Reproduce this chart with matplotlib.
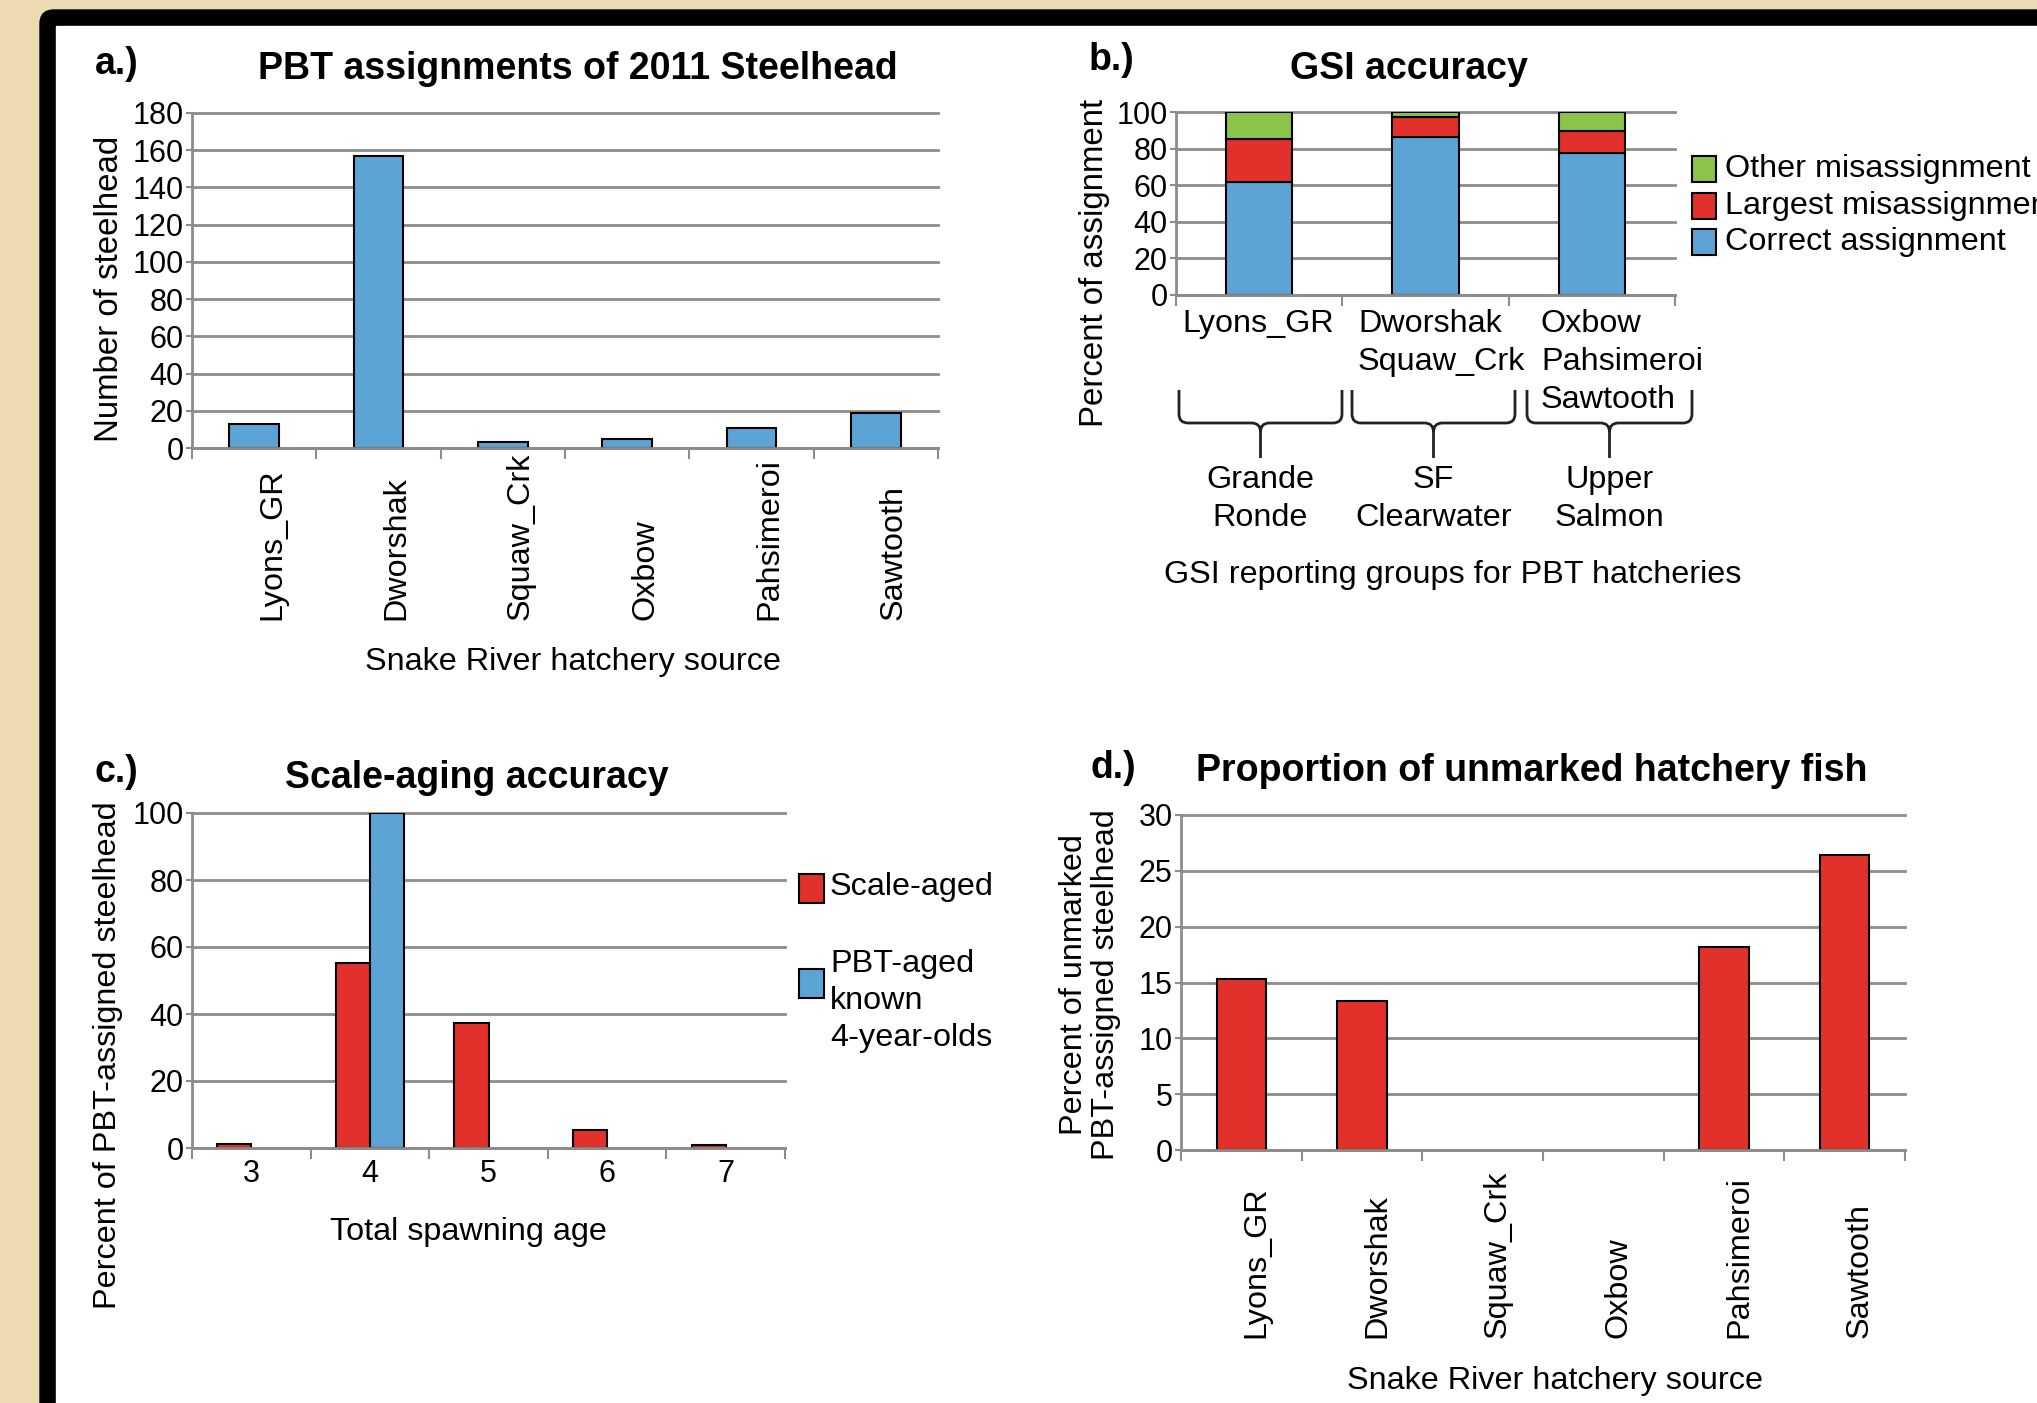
import numpy as np
import matplotlib
matplotlib.use("Agg")
import matplotlib.pyplot as plt
from matplotlib.patches import Rectangle, FancyBboxPatch, PathPatch
from matplotlib.path import Path
from matplotlib.transforms import ScaledTranslation

plt.rcParams['font.family'] = ['Liberation Sans', 'DejaVu Sans']

W, H = 2037, 1403

# a.) PBT assignments of 2011 steelhead
hatcheries = ["Lyons_GR", "Dworshak", "Squaw_Crk", "Oxbow", "Pahsimeroi", "Sawtooth"]
pbt_counts = [13, 157, 3, 5, 11, 19]

# b.) GSI accuracy (percent of assignment)
gsi_hatcheries = ["Lyons_GR", "Dworshak\nSquaw_Crk", "Oxbow\nPahsimeroi\nSawtooth"]
gsi_correct = [61.5, 86.5, 77.5]
gsi_largest = [23.5, 10.5, 12.0]
gsi_other = [15.0, 3.0, 10.5]
reporting_groups = ["Grande\nRonde", "SF\nClearwater", "Upper\nSalmon"]

# c.) scale-aging accuracy
ages = [3, 4, 5, 6, 7]
scale_aged = [1.3, 55.3, 37.2, 5.5, 0.8]
pbt_aged = [0, 100, 0, 0, 0]

# d.) unmarked hatchery fish
unmarked_pct = [15.3, 13.3, 0, 0, 18.2, 26.4]

BLUE = '#5ba4d5'
RED = '#e2302a'
GREEN = '#8cc44b'
GRID = '#8e8c8a'
FS = 22      # tick labels
LFS = 23.3   # axis labels, legends
TFS = 27     # titles
LS = 1.34

fig = plt.figure(figsize=(W / 100, H / 100), dpi=100)

# background layer in pixel coordinates
bg = fig.add_axes([0, 0, 1, 1], zorder=0)
bg.set_xlim(0, W)
bg.set_ylim(H, 0)
bg.axis('off')
bg.add_patch(Rectangle((0, 0), W, H, color='#ebdab2'))
bg.add_patch(FancyBboxPatch((40, 10), W + 40, H + 40,
                            boxstyle='round,pad=0,rounding_size=14',
                            color='black'))
bg.add_patch(Rectangle((56, 26), W, H, color='white'))


def panel(l, t, r, b):
    ax = fig.add_axes([l / W, 1 - b / H, (r - l) / W, (b - t) / H], zorder=1)
    ax.set_facecolor('none')
    return ax


def style(ax, n, ymax, ystep):
    ax.set_xlim(-0.5, n - 0.5)
    ax.set_ylim(0, ymax)
    ax.set_yticks(np.arange(0, ymax + 1, ystep))
    ax.grid(axis='y', color=GRID, lw=2)
    ax.set_axisbelow(True)
    for ln in ax.get_ygridlines():
        ln.set_clip_on(False)
    for s in ['top', 'right']:
        ax.spines[s].set_visible(False)
    for s in ['left', 'bottom']:
        ax.spines[s].set_color(GRID)
        ax.spines[s].set_linewidth(2)
    ax.set_xticks(np.arange(-0.5, n), minor=True)
    ax.tick_params(axis='y', length=4, width=1.5, color=GRID, labelsize=FS, pad=2)
    ax.tick_params(axis='x', which='minor', length=8, width=1.5, color=GRID)
    ax.tick_params(axis='x', which='major', length=0, labelsize=FS)


def rotated_names(ax, names, bottom_px, axis_px, shift_px):
    # vertical names that start at a common baseline below the axis
    ax.set_xticks(np.arange(len(names)), names, rotation=90, va='bottom', fontsize=LFS)
    ax.tick_params(axis='x', which='major', pad=(bottom_px - axis_px) * 0.72)
    off = ScaledTranslation(shift_px / 100, 0, fig.dpi_scale_trans)
    for lbl in ax.get_xticklabels():
        lbl.set_transform(lbl.get_transform() + off)


def edges(vals):
    return [1.5 if v > 0 else 0 for v in vals]


def label(x, y, s, **kw):
    kw.setdefault('ha', 'center')
    kw.setdefault('va', 'center')
    kw.setdefault('fontsize', LFS)
    bg.text(x, y, s, **kw)


# ---- a.)
ax = panel(192, 113, 938, 448)
style(ax, len(hatcheries), 180, 20)
x = np.arange(len(hatcheries))
ax.bar(x, pbt_counts, 0.4, color=BLUE, edgecolor='black', linewidth=edges(pbt_counts))
rotated_names(ax, hatcheries, 620, 448, 18)
label(95, 64, 'a.)', ha='left', fontsize=TFS, fontweight='bold')
label(578, 69, 'PBT assignments of 2011 Steelhead', fontsize=TFS, fontweight='bold')
label(110, 289, 'Number of steelhead', rotation=90, fontsize=23.8)
label(573, 662, 'Snake River hatchery source')

# ---- b.)
ax = panel(1176, 112, 1675, 295)
style(ax, len(gsi_hatcheries), 100, 20)
x = np.arange(len(gsi_hatcheries))
ax.bar(x, gsi_correct, 0.4, color=BLUE, edgecolor='black', linewidth=1.5)
ax.bar(x, gsi_largest, 0.4, bottom=gsi_correct, color=RED, edgecolor='black', linewidth=1.5)
ax.bar(x, gsi_other, 0.4, bottom=np.add(gsi_correct, gsi_largest), color=GREEN,
       edgecolor='black', linewidth=1.5)
ax.set_xticks(x, [''] * len(x))
for xl, name in zip([1182, 1358, 1541], gsi_hatcheries):
    label(xl, 309, name, ha='left', va='top', multialignment='left', linespacing=LS)
label(1089, 60, 'b.)', ha='left', fontsize=TFS, fontweight='bold')
label(1409, 69, 'GSI accuracy', fontsize=TFS, fontweight='bold')
label(1094, 263, 'Percent of assignment', rotation=90, fontsize=23.8)
label(1453, 575, 'GSI reporting groups for PBT hatcheries')

# legend b
for (yc, txt, col) in [(169, 'Other misassignment', GREEN),
                       (206, 'Largest misassignment', RED),
                       (242, 'Correct assignment', BLUE)]:
    bg.add_patch(Rectangle((1692, yc - 13), 24, 26, facecolor=col, edgecolor='black', lw=1.5))
    label(1725, yc, txt, ha='left')


# curly braces linking hatcheries to reporting groups
def brace(x0, x1, yt=390, ym=423, yb=458, r=9):
    xc = (x0 + x1) / 2
    verts = [(x0, yt), (x0, ym - r), (x0, ym), (x0 + r, ym), (xc - r, ym), (xc, ym), (xc, ym + r),
             (xc, yb),
             (x1, yt), (x1, ym - r), (x1, ym), (x1 - r, ym), (xc + r, ym), (xc, ym), (xc, ym + r)]
    codes = [Path.MOVETO, Path.LINETO, Path.CURVE3, Path.CURVE3, Path.LINETO, Path.CURVE3, Path.CURVE3,
             Path.LINETO,
             Path.MOVETO, Path.LINETO, Path.CURVE3, Path.CURVE3, Path.LINETO, Path.CURVE3, Path.CURVE3]
    bg.add_patch(PathPatch(Path(verts, codes), fill=False, lw=2, edgecolor='#222222'))
    return xc


for (x0, x1), grp in zip([(1179, 1342), (1352, 1515), (1527, 1692)], reporting_groups):
    xc = brace(x0, x1)
    label(xc, 499, grp, linespacing=LS)

# ---- c.)
ax = panel(192, 813, 785, 1148)
style(ax, len(ages), 100, 20)
x = np.arange(len(ages))
w = 0.287
ax.bar(x - w / 2, scale_aged, w, color=RED, edgecolor='black', linewidth=edges(scale_aged))
ax.bar(x + w / 2, pbt_aged, w, color=BLUE, edgecolor='black', linewidth=edges(pbt_aged))
ax.set_xticks(x, [str(a) for a in ages])
ax.tick_params(axis='x', which='major', pad=8)
label(95, 772, 'c.)', ha='left', fontsize=TFS, fontweight='bold')
label(477, 778, 'Scale-aging accuracy', fontsize=TFS, fontweight='bold')
label(108, 1055, 'Percent of PBT-assigned steelhead', rotation=90)
label(468, 1232, 'Total spawning age')

# legend c
bg.add_patch(Rectangle((799, 874), 25, 29, facecolor=RED, edgecolor='black', lw=1.5))
label(830, 887, 'Scale-aged', ha='left')
bg.add_patch(Rectangle((799, 969), 25, 29, facecolor=BLUE, edgecolor='black', lw=1.5))
label(830, 1001, 'PBT-aged\nknown\n4-year-olds', ha='left', linespacing=1.3)

# ---- d.)
ax = panel(1181, 815, 1905, 1150)
style(ax, len(hatcheries), 30, 5)
x = np.arange(len(hatcheries))
ax.bar(x, unmarked_pct, 0.41, color=RED, edgecolor='black', linewidth=edges(unmarked_pct))
rotated_names(ax, hatcheries, 1338, 1150, 15)
label(1091, 768, 'd.)', ha='left', fontsize=TFS, fontweight='bold')
label(1532, 771, 'Proportion of unmarked hatchery fish', fontsize=TFS, fontweight='bold')
label(1090, 985, 'Percent of unmarked\nPBT-assigned steelhead', rotation=90, linespacing=1.1)
label(1555, 1381, 'Snake River hatchery source')

fig.savefig('out.png', dpi=100)
